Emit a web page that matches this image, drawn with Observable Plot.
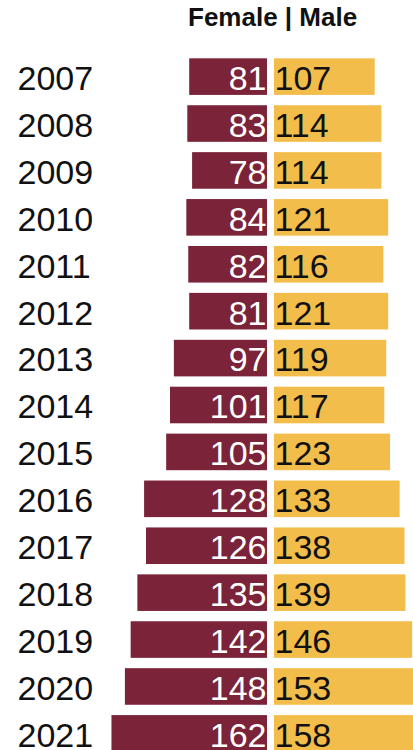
<!DOCTYPE html>
<html>
<head>
<meta charset="utf-8">
<script src="https://cdn.jsdelivr.net/npm/d3@7"></script>
<script src="https://cdn.jsdelivr.net/npm/@observablehq/plot@0.6"></script>
<style>
  html, body { margin: 0; padding: 0; background: #fff; }
  body { width: 413px; height: 750px; overflow: hidden; font-family: "Liberation Sans", Arial, sans-serif; }
  #title { position: relative; height: 40px; }
  #title span { position: absolute; left: 188px; top: 4px; font: bold 26px/26px "Liberation Sans", Arial, sans-serif; color: #111; white-space: pre; }
  #chart { height: 710px; overflow: hidden; }
</style>
</head>
<body>
<div id="title"><span>Female | Male</span></div>
<div id="chart"></div>
<script>
const years = ["2007","2008","2009","2010","2011","2012","2013","2014","2015","2016","2017","2018","2019","2020","2021"];
const female = [81, 83, 78, 84, 82, 81, 97, 101, 105, 128, 126, 135, 142, 148, 162];
const male = [107, 114, 114, 121, 116, 121, 119, 117, 123, 133, 138, 139, 146, 153, 158];

const rows = years.map((y, i) => ({year: y, female: female[i], male: male[i]}));

const fontFamily = "Liberation Sans, Arial, sans-serif";
const chart = Plot.plot({
  width: 413,
  height: 722,
  marginTop: 8,
  marginBottom: 0,
  marginLeft: 0,
  marginRight: 0,
  style: {fontFamily, background: "#fff"},
  x: {domain: [-280.7, 149.5], axis: null},
  y: {domain: years, padding: 0.22, round: false, axis: null},
  marks: [
    Plot.barX(rows, {y: "year", x1: d => -d.female, x2: 0, dx: -2.5, fill: "#7b2339", clip: true}),
    Plot.barX(rows, {y: "year", x1: 0, x2: d => d.male, dx: 2.5, insetLeft: 2, fill: "#f2bd4a", clip: true}),
    Plot.text(rows, {y: "year", text: "year", frameAnchor: "left", dx: 17, dy: 2, textAnchor: "start", fontSize: 34, fill: "#111"}),
    Plot.text(rows, {y: "year", x: 0, text: d => String(d.female), dx: -3.5, dy: 2, textAnchor: "end", fontSize: 34, fill: "#fff"}),
    Plot.text(rows, {y: "year", x: 0, text: d => String(d.male), dx: 4.5, dy: 2, textAnchor: "start", fontSize: 34, fill: "#111"})
  ]
});
document.getElementById("chart").appendChild(chart);
</script>
</body>
</html>
